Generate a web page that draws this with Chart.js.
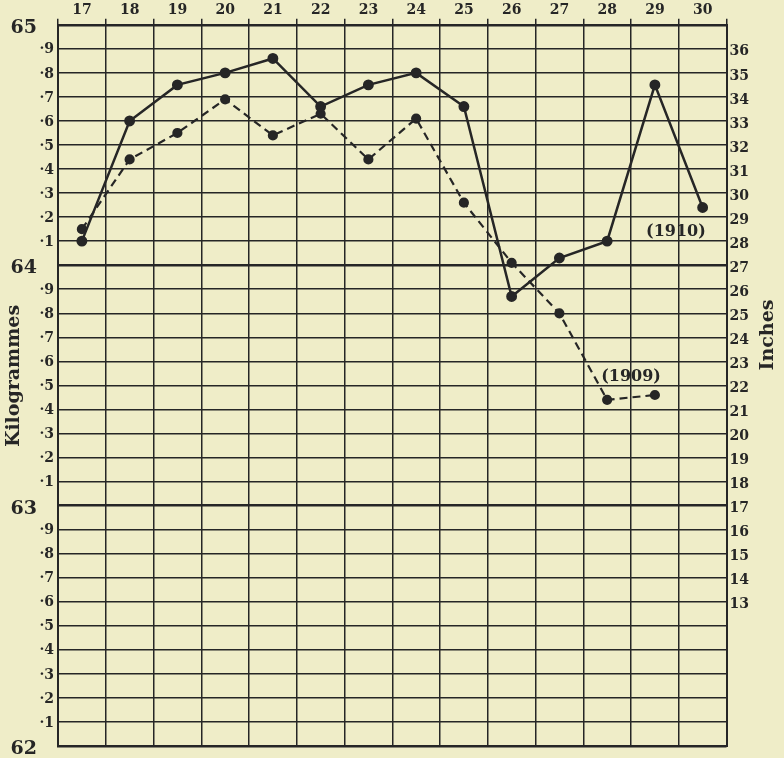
<!DOCTYPE html>
<html><head><meta charset="utf-8">
<script src="https://cdn.jsdelivr.net/npm/chart.js@4"></script>
<style>html,body{margin:0;padding:0;background:#efedc9;}</style>
</head><body>
<canvas id="c" width="784" height="758" style="display:block;width:784px;height:758px"></canvas>
<script>
// ---- data ----
const days = ['17','18','19','20','21','22','23','24','25','26','27','28','29','30'];
const kg1910 = [64.10,64.60,64.75,64.80,64.86,64.66,64.75,64.80,64.66,63.87,64.03,64.10,64.75,64.24];
const kg1909 = [64.15,64.44,64.55,64.69,64.54,64.63,64.44,64.61,64.26,64.01,63.80,63.44,63.46,null];
const kgMin = 62, kgMax = 65;
const inchMin = 7, inchMax = 37;
const inchLabelsShown = [13,14,15,16,17,18,19,20,21,22,23,24,25,26,27,28,29,30,31,32,33,34,35,36];
const seriesLabels = ['(1910)','(1909)'];
// label anchor (category position, kg value)
const labelAnchors = [[12.44, 64.137],[11.5, 63.535]];

const INK = '#262626';
const SERIF = '"DejaVu Serif", "Liberation Serif", serif';

const bgPlugin = {
  id:'bg',
  beforeDraw(chart){
    const c = chart.ctx; c.save(); c.fillStyle = '#efedc8';
    c.fillRect(0,0,chart.width,chart.height); c.restore();
  }
};

const textPlugin = {
  id:'texts',
  afterDraw(chart){
    const c = chart.ctx, ys = chart.scales.y, xs = chart.scales.x;
    c.save();
    c.fillStyle = INK;
    c.textBaseline = 'middle';
    // left tick labels
    for (let i = Math.round(kgMin*10); i <= Math.round(kgMax*10); i++){
      const v = i/10, p = ys.getPixelForValue(v);
      const d = i % 10;
      if (d === 0){
        c.font = 'bold 19px ' + SERIF; c.textAlign = 'right';
        c.fillText(String(i/10), 37, p + 3);
      } else {
        c.font = 'bold 14px ' + SERIF; c.textAlign = 'right';
        c.fillText('\u00B7' + d, 54, p + 1);
      }
    }
    // axis titles
    c.font = 'bold 19px ' + SERIF; c.textAlign = 'center';
    c.save(); c.translate(14, 376); c.rotate(-Math.PI/2); c.fillText('Kilogrammes', 0, 0); c.restore();
    c.save(); c.translate(768, 335); c.rotate(-Math.PI/2); c.fillText('Inches', 0, 0); c.restore();
    // series labels
    c.font = 'bold 16px ' + SERIF;
    const colW = xs.getPixelForValue(1) - xs.getPixelForValue(0);
    labelAnchors.forEach((a, k) => {
      const base = Math.floor(a[0]);
      const px = xs.getPixelForValue(base) + (a[0]-base)*colW;
      const py = ys.getPixelForValue(a[1]);
      c.fillText(seriesLabels[k], px, py);
    });
    c.restore();
  }
};

new Chart(document.getElementById('c'), {
  type:'line',
  data:{
    labels: days,
    datasets:[
      {label:'1910', data:kg1910, borderColor:INK, backgroundColor:INK, borderWidth:2.5,
       pointRadius:4.2, pointBackgroundColor:INK, pointBorderColor:INK, tension:0, yAxisID:'y'},
      {label:'1909', data:kg1909, borderColor:INK, backgroundColor:INK, borderWidth:2.2,
       borderDash:[8,5], pointRadius:4, pointBackgroundColor:INK, pointBorderColor:INK, tension:0, yAxisID:'y'}
    ]
  },
  options:{
    responsive:false, devicePixelRatio:1, animation:false,
    layout:{padding:{left:58, right:32, top:2, bottom:12}},
    plugins:{legend:{display:false}, tooltip:{enabled:false}},
    scales:{
      x:{type:'category', position:'top', offset:true,
         grid:{offset:true, color:INK, lineWidth:1.5, tickLength:6, drawTicks:true},
         border:{display:true, color:INK, width:2},
         ticks:{font:{family:SERIF, size:14, weight:'bold'}, color:INK, padding:0, maxRotation:0, autoSkip:false}},
      y:{type:'linear', position:'left', min:kgMin, max:kgMax,
         ticks:{display:false, stepSize:0.1},
         grid:{color:INK, drawTicks:false,
               lineWidth:(ctx)=>{ const v = ctx.tick ? Math.round(ctx.tick.value*10) : 1; return (v % 10 === 0) ? 2.5 : 1.5; }},
         border:{display:true, color:INK, width:2}},
      y2:{type:'linear', position:'right', min:inchMin, max:inchMax,
         ticks:{stepSize:1, padding:3, labelOffset:3, color:INK,
                font:{family:SERIF, size:14, weight:'bold'},
                callback:(v)=> inchLabelsShown.includes(v) ? String(v) : null},
         grid:{display:false, drawTicks:false},
         border:{display:true, color:INK, width:2}}
    }
  },
  plugins:[bgPlugin, textPlugin]
});
</script>
</body></html>
